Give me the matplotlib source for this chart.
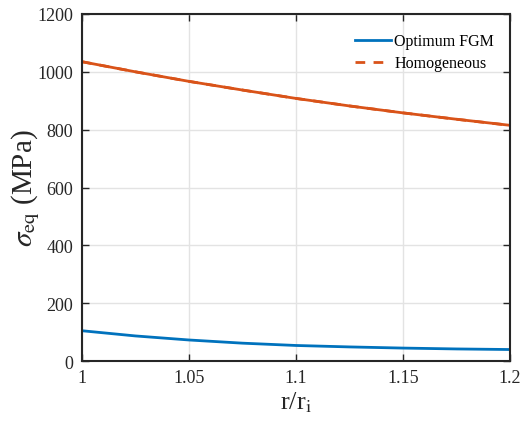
import matplotlib
matplotlib.use("Agg")
import matplotlib.pyplot as plt

plt.rcParams['font.family'] = ['Liberation Serif']
plt.rcParams['mathtext.fontset'] = 'stix'

# radial position r/r_i
r_ratio = [1.0, 1.025, 1.05, 1.075, 1.1, 1.125, 1.15, 1.175, 1.2]
# equivalent stress (MPa)
sigma_fgm = [105, 87, 73, 62, 54, 49, 45, 42, 40]
sigma_homog = [1035, 1000, 967, 937, 908, 882, 858, 836, 815]

xticks = [1, 1.05, 1.1, 1.15, 1.2]
xticklabels = ['1', '1.05', '1.1', '1.15', '1.2']
yticks = [0, 200, 400, 600, 800, 1000, 1200]

blue = '#0072BD'
orange = '#D95319'

fig = plt.figure(figsize=(5.21, 4.27), dpi=100)
ax = fig.add_axes([0.157, 0.152, 0.822, 0.813])

ax.plot(r_ratio, sigma_fgm, color=blue, lw=2, label='Optimum FGM')
ax.plot(r_ratio, sigma_homog, color=orange, lw=2, solid_capstyle='butt')
ax.plot(r_ratio, sigma_homog, color=orange, lw=2, ls=(0, (3.5, 3)), label='Homogeneous')

ax.set_xlim(1, 1.2)
ax.set_ylim(0, 1200)
ax.set_xticks(xticks)
ax.set_xticklabels(xticklabels)
ax.set_yticks(yticks)
ax.grid(True, color='#e3e3e3', lw=1)
ax.set_axisbelow(True)
ax.tick_params(direction='in', length=5, width=1, top=True, right=True,
               labelsize=13, colors='#262626', pad=6)
for s in ax.spines.values():
    s.set_linewidth(1.5)
    s.set_color('#262626')

ax.set_xlabel(r'r/r$_{\rm i}$', fontsize=19, color='#262626', labelpad=2)
ax.set_ylabel(r'$\sigma_{\rm eq}$ (MPa)', fontsize=21, color='#262626', labelpad=-3)

ax.legend(loc='upper left', bbox_to_anchor=(0.622, 0.963), frameon=False,
          fontsize=11.5, handlelength=2.3, handletextpad=0.2,
          borderaxespad=0.0, labelspacing=0.38)

fig.savefig('out.png', dpi=100)
